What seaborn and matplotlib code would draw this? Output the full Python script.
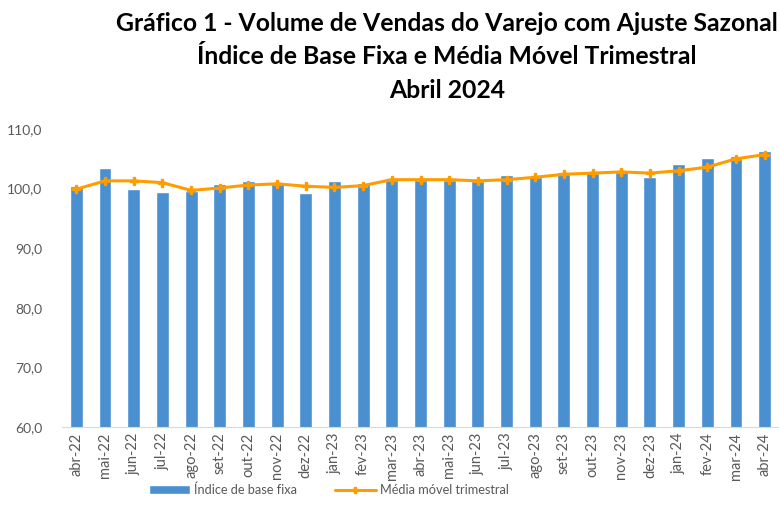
import matplotlib
matplotlib.use("Agg")
import matplotlib.pyplot as plt
import seaborn as sns
import pandas as pd
from matplotlib.lines import Line2D
from matplotlib.patches import Patch

# Data
meses = ["abr-22", "mai-22", "jun-22", "jul-22", "ago-22", "set-22", "out-22", "nov-22",
         "dez-22", "jan-23", "fev-23", "mar-23", "abr-23", "mai-23", "jun-23", "jul-23",
         "ago-23", "set-23", "out-23", "nov-23", "dez-23", "jan-24", "fev-24", "mar-24",
         "abr-24"]
indice_base_fixa = [100.5, 103.4, 100.0, 99.5, 99.6, 100.7, 101.2, 101.0, 99.2, 101.2,
                    100.9, 101.8, 101.5, 101.5, 101.2, 102.2, 102.0, 102.8, 102.7, 103.0,
                    101.9, 104.1, 105.2, 105.4, 106.3]
media_movel = [99.9, 101.3, 101.3, 101.0, 99.7, 100.1, 100.6, 100.8, 100.4, 100.2,
               100.5, 101.5, 101.5, 101.5, 101.3, 101.5, 101.9, 102.4, 102.6, 102.8,
               102.6, 103.0, 103.6, 105.0, 105.7]

df = pd.DataFrame({"mes": meses, "indice": indice_base_fixa, "mm": media_movel})

sns.set_style("white")
plt.rcParams["font.family"] = ["Lato", "DejaVu Sans"]

bar_color = "#4a8fd0"
line_color = "#ff9c00"
text_gray = "#595959"

fig = plt.figure(figsize=(7.79, 5.24), dpi=100)
ax = fig.add_axes([62 / 779, 97 / 524, 717 / 779, 298 / 524])

sns.barplot(data=df, x="mes", y="indice", color=bar_color, width=0.45,
            saturation=1, ax=ax)
ax.plot(range(len(df)), df["mm"], color=line_color, linewidth=2.2,
        marker="P", markersize=6, zorder=3)

ax.set_ylim(60, 110)
ax.set_xlim(-0.5, len(meses) - 0.5)
ax.set_yticks([60, 70, 80, 90, 100, 110])
ax.set_yticklabels([f"{v:.1f}".replace(".", ",") for v in [60, 70, 80, 90, 100, 110]],
                   color=text_gray, fontsize=10)
ax.set_xticks(range(len(meses)))
ax.set_xticklabels(meses, rotation=90, color=text_gray, fontsize=10.5)
ax.tick_params(axis="y", length=0, pad=14)
ax.tick_params(axis="x", length=0, pad=4)
ax.set_xlabel("")
ax.set_ylabel("")
for s in ["top", "right", "left"]:
    ax.spines[s].set_visible(False)
ax.spines["bottom"].set_color("#d9d9d9")

fig.text(0.574, 0.978, "Gráfico 1 - Volume de Vendas do Varejo com Ajuste Sazonal\n"
         "Índice de Base Fixa e Média Móvel Trimestral\nAbril 2024",
         ha="center", va="top", fontsize=17.8, fontweight="bold",
         linespacing=1.56, color="black")

handles = [Patch(facecolor=bar_color, label="Índice de base fixa"),
           Line2D([0], [0], color=line_color, linewidth=2.2, marker="P", markersize=5,
                  label="Média móvel trimestral")]
leg = fig.legend(handles=handles, loc="center", bbox_to_anchor=(0.422, 0.065), ncol=2,
                 frameon=False, fontsize=9.2, handlelength=3.2, columnspacing=3,
                 handletextpad=0.3)
for t in leg.get_texts():
    t.set_color(text_gray)

fig.savefig("out.png", dpi=100)
